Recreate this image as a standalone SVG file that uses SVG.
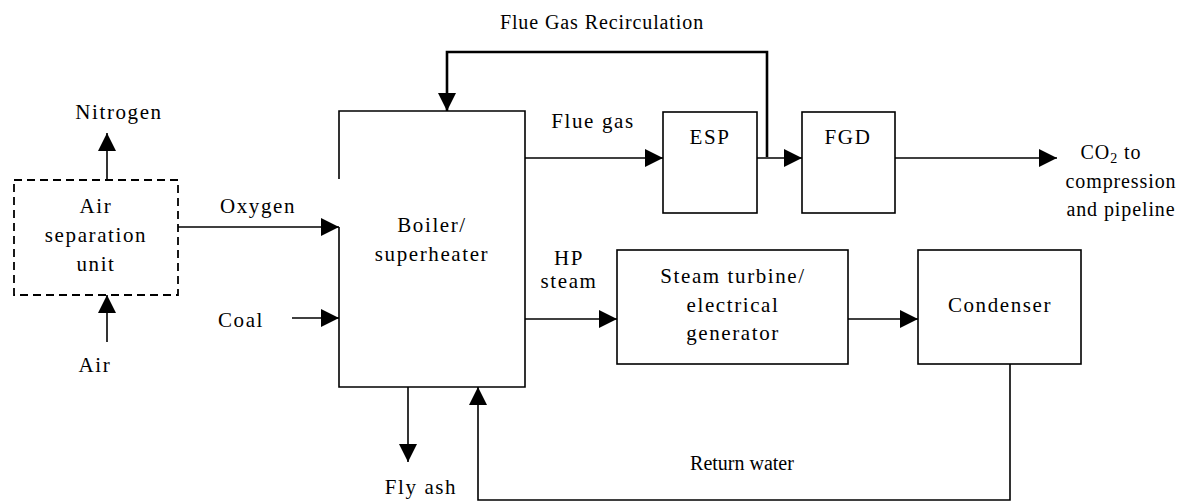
<svg xmlns="http://www.w3.org/2000/svg" width="1182" height="502" viewBox="0 0 1182 502">
<style>
text{font-family:"Liberation Serif","Times New Roman",serif;font-size:21px;letter-spacing:1.6px;fill:#000;text-anchor:middle}
text.n{font-size:20px;letter-spacing:0px}
text.m{font-size:20px;letter-spacing:0.9px}
.box{fill:none;stroke:#000;stroke-width:1.6}
.dash{fill:none;stroke:#000;stroke-width:1.8;stroke-dasharray:8,5}
.ln{fill:none;stroke:#000;stroke-width:1.6}
.thick{fill:none;stroke:#000;stroke-width:2.6}
</style>
<defs>
<marker id="ah" markerUnits="userSpaceOnUse" markerWidth="18" markerHeight="18" refX="18" refY="9" orient="auto"><path d="M0,0 L18,9 L0,18 Z" fill="#000"/></marker>
</defs>
<text class="m" x="602" y="29">Flue Gas Recirculation</text>
<g id="asu">
<rect class="dash" x="14" y="180" width="164" height="115"/>
<text x="96" y="213">Air</text>
<text x="96" y="242">separation</text>
<text x="96" y="271">unit</text>
</g>
<g id="boiler">
<path class="box" d="M339,179 V111 H525 V387 H339 V227"/>
<text x="432" y="232">Boiler/</text>
<text x="432" y="261">superheater</text>
</g>
<g id="esp">
<rect class="box" x="663" y="112" width="94" height="101"/>
<text x="710" y="144">ESP</text>
</g>
<g id="fgd">
<rect class="box" x="802" y="112" width="93" height="101"/>
<text x="848" y="144">FGD</text>
</g>
<g id="turbine">
<rect class="box" x="617" y="250" width="231" height="114"/>
<text x="733" y="283">Steam turbine/</text>
<text x="733" y="312">electrical</text>
<text x="733" y="340">generator</text>
</g>
<g id="condenser">
<rect class="box" x="918" y="250" width="163" height="114"/>
<text x="1000" y="312">Condenser</text>
</g>
<g id="labels">
<text x="119" y="119">Nitrogen</text>
<text x="258" y="213">Oxygen</text>
<text x="241" y="327">Coal</text>
<text x="95" y="372">Air</text>
<text x="593" y="128">Flue gas</text>
<text x="569" y="265">HP</text>
<text x="569" y="288">steam</text>
<text class="m" x="1111" y="159">CO<tspan font-size="14" dy="4">2</tspan><tspan dy="-4"> to</tspan></text>
<text class="m" x="1121" y="188">compression</text>
<text class="m" x="1121" y="216">and pipeline</text>
<text x="421" y="494">Fly ash</text>
<text class="n" x="742" y="470">Return water</text>
</g>
<g id="connectors">
<path class="ln" d="M107,180 V133" marker-end="url(#ah)"/>
<path class="ln" d="M107,342 V295" marker-end="url(#ah)"/>
<path class="ln" d="M178,227 H339" marker-end="url(#ah)"/>
<path class="ln" d="M292,318 H339" marker-end="url(#ah)"/>
<path class="ln" d="M525,158 H663" marker-end="url(#ah)"/>
<path class="ln" d="M757,158 H802" marker-end="url(#ah)"/>
<path class="ln" d="M895,158 H1057" marker-end="url(#ah)"/>
<path class="thick" d="M767,157 V52 H447 V111" marker-end="url(#ah)"/>
<path class="ln" d="M525,319 H617" marker-end="url(#ah)"/>
<path class="ln" d="M848,319 H918" marker-end="url(#ah)"/>
<path class="ln" d="M408,387 V462" marker-end="url(#ah)"/>
<path class="ln" d="M1010,364 V500 H478 V387" marker-end="url(#ah)"/>
</g>
</svg>
